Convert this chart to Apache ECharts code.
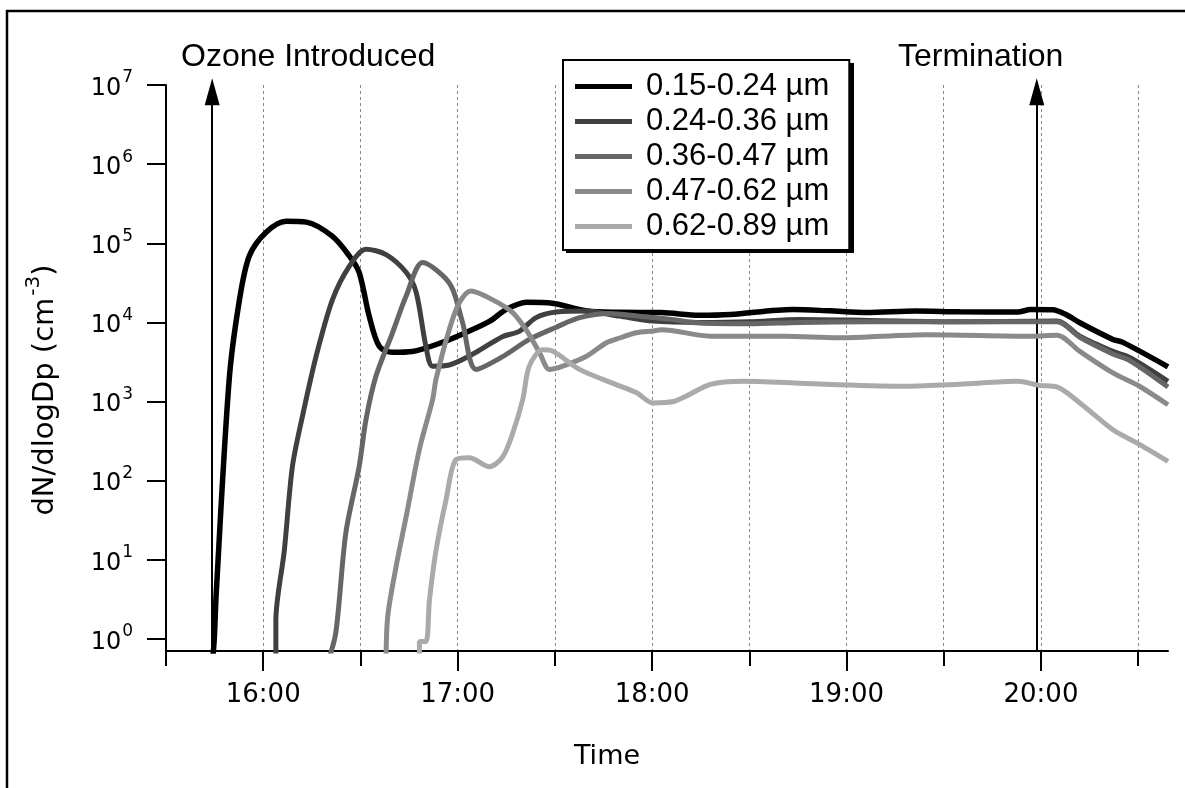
<!DOCTYPE html>
<html>
<head>
<meta charset="utf-8">
<script src="https://cdn.jsdelivr.net/npm/echarts@6/dist/echarts.min.js"></script>
<style>html,body{margin:0;padding:0;background:#fff}#c{width:1185px;height:788px}</style>
</head>
<body>
<div id="c"></div>
<script>
// ---- data (time in minutes after midnight, dN/dlogDp in cm^-3) ----
const seriesNames = ['0.15-0.24 µm', '0.24-0.36 µm', '0.36-0.47 µm', '0.47-0.62 µm', '0.62-0.89 µm'];
const seriesColors = ['#000000', '#404040', '#666666', '#8a8a8a', '#aaaaaa'];

const t1 = [944.3, 944.9, 945.5, 949.5, 952.6, 955.7, 960.9, 967.1, 973.3, 981.3, 986.6, 989.6, 992.7, 995.8, 999.8, 1006, 1015.3, 1022.7, 1029.8, 1035, 1041.2, 1049.2, 1060, 1069.9, 1082.9, 1094.6, 1104.2, 1123.4, 1134.8, 1146.2, 1161.3, 1174.9, 1192.8, 1196.9, 1203.6, 1207.7, 1212, 1222.2, 1225.3, 1239.2];
const v1 = [0.5, 1, 3.8, 1900, 18500, 69000, 138000, 190000, 185000, 123000, 69000, 43000, 12000, 5000, 4200, 4300, 5600, 7500, 10300, 14600, 18000, 17500, 13900, 13400, 13300, 12300, 12600, 14600, 14000, 13300, 13900, 13600, 13500, 14600, 14500, 12600, 9900, 6100, 5600, 2750];

const t2 = [963.9, 963.9, 966.5, 969, 972.1, 976.3, 981.4, 986.6, 991.7, 997.9, 1004.1, 1007.2, 1010.2, 1012.3, 1017.4, 1025.7, 1033.8, 1039, 1044.2, 1050.4, 1059.6, 1069.9, 1080.2, 1094.6, 1110, 1125.5, 1147.1, 1174, 1204.9, 1212, 1222.2, 1227.4, 1239.2];
const v2 = [0.5, 1.7, 13, 150, 650, 3700, 19500, 51500, 84000, 72000, 43000, 24000, 5000, 2800, 2900, 4200, 6600, 7700, 11500, 13500, 13900, 12000, 10400, 10000, 10200, 10900, 10600, 10200, 10400, 6700, 4300, 3600, 1800];

const t3 = [979.9, 982.4, 985.5, 989.6, 991.7, 994.8, 999.9, 1004.1, 1009.2, 1015.4, 1018.5, 1021.5, 1025.7, 1033.9, 1042.1, 1050.4, 1057.6, 1066.8, 1076.1, 1085.4, 1094.6, 1110.1, 1125.5, 1147.1, 1174, 1204.9, 1212, 1222.2, 1227.4, 1239.2];
const v3 = [0.5, 1.2, 22, 150, 590, 2100, 7400, 21500, 57000, 39000, 26000, 10000, 2550, 3700, 6100, 8700, 11500, 13000, 12000, 11000, 9800, 9600, 10000, 10200, 10200, 10200, 6500, 4000, 3300, 1530];

const t4 = [997.9, 998.4, 1001, 1004.1, 1008.2, 1012.3, 1013.3, 1017.4, 1020.5, 1024.1, 1030.7, 1036.9, 1041.1, 1045.2, 1048.3, 1051.4, 1059.6, 1065.8, 1070.2, 1075.1, 1080.4, 1082.9, 1098, 1120.9, 1137.3, 1165, 1196.9, 1204.9, 1212, 1222.2, 1230.5, 1239.2];
const v4 = [0.5, 1.9, 8.2, 35, 250, 1070, 1900, 8100, 17700, 25000, 19400, 13400, 8100, 4200, 2550, 2700, 3700, 5500, 6400, 7400, 7800, 8100, 6700, 6700, 6400, 7000, 6700, 6900, 4300, 2300, 1550, 910];

const t5 = [1008.2, 1008.2, 1010.2, 1011.3, 1013.3, 1016.4, 1019.5, 1023.6, 1029.8, 1033.9, 1037, 1040.1, 1042.1, 1046.2, 1049.2, 1057.6, 1067.9, 1075.1, 1080.3, 1086.6, 1090.5, 1098, 1108.2, 1133.4, 1158.7, 1174.9, 1192.8, 1199.6, 1204.9, 1212, 1222.2, 1229.6, 1239.2];
const v5 = [0.5, 0.93, 0.93, 3.1, 13, 57, 185, 195, 150, 200, 400, 1070, 2800, 4500, 4350, 2550, 1700, 1300, 960, 1000, 1170, 1650, 1800, 1650, 1560, 1650, 1800, 1600, 1530, 960, 440, 300, 175];

const hourTickLabels = ['16:00', '17:00', '18:00', '19:00', '20:00'];
const yTickExponents = [0, 1, 2, 3, 4, 5, 6, 7];
const eventNames = ['Ozone Introduced', 'Termination'];
const eventTimes = ['15:44.25', '19:58.7'];

// ---- helpers ----
function toMin(s) { const p = s.split(':'); return (+p[0]) * 60 + (+p[1]); }
function fmtTime(v) { const h = Math.floor(v / 60), m = Math.round(v % 60); return h + ':' + (m < 10 ? '0' : '') + m; }
function fmtPow(v) {
  const e = Math.log10(v), r = Math.round(e);
  if (Math.abs(e - r) > 1e-6 || yTickExponents.indexOf(r) < 0) return '';
  return '{b|10}{e|' + r + '}';
}

const xMin = toMin('15:30'), xMax = toMin('20:39.2');
const yMin = Math.pow(10, -0.152), yMax = 1e7;
const hourTicks = hourTickLabels.map(toMin);
const halfHourTicks = [];
for (let v = xMin; v < xMax; v += 30) halfHourTicks.push(v);
const yTicks = yTickExponents.map(e => Math.pow(10, e));
const eventMin = eventTimes.map(toMin);

const allT = [t1, t2, t3, t4, t5], allV = [v1, v2, v3, v4, v5];
const lineWidths = [5.5, 5, 5, 5, 5];

const series = seriesNames.map((name, i) => ({
  name: name, type: 'line', showSymbol: false, smooth: 0.3,
  data: allT[i].map((t, j) => [t, allV[i][j]]),
  lineStyle: { color: seriesColors[i], width: lineWidths[i] },
  itemStyle: { color: seriesColors[i] },
  z: 3 + i, silent: true
}));

series.push({
  name: 'events', type: 'line', data: [], clip: false, silent: true, z: 10,
  markLine: {
    silent: true, animation: false,
    symbol: ['none', 'triangle'], symbolSize: [15, 27],
    label: { show: false },
    lineStyle: { color: '#000', width: 2, type: 'solid' },
    emphasis: { disabled: true },
    data: eventMin.map(t => [{ coord: [t, yMin] }, { coord: [t, Math.pow(10, 6.915)] }])
  }
});

const chart = echarts.init(document.getElementById('c'), null, { renderer: 'canvas' });
chart.setOption({
  animation: false,
  backgroundColor: '#fff',
  color: seriesColors,
  textStyle: { fontFamily: 'DejaVu Sans' },
  grid: { left: 166, right: 17, top: 85, bottom: 137 },
  legend: {
    data: seriesNames, orient: 'vertical', left: 563, top: 60, z: 6,
    icon: 'rect', itemWidth: 57, itemHeight: 5, itemGap: 2,
    padding: [10, 20, 7, 12],
    borderColor: '#000', borderWidth: 2, backgroundColor: '#fff',
    selectedMode: false,
    textStyle: { fontFamily: 'Liberation Sans', fontSize: 31, color: '#000', lineHeight: 33, padding: [0, 0, 0, 9] }
  },
  xAxis: [
    {
      type: 'value', min: xMin, max: xMax, position: 'bottom',
      axisLine: { show: true, lineStyle: { color: '#000', width: 2 } },
      axisTick: { show: true, length: 15, lineStyle: { color: '#000', width: 2 }, customValues: halfHourTicks },
      axisLabel: { show: false },
      splitLine: { show: true, lineStyle: { color: '#888', width: 1, type: [3, 3] } }
    },
    {
      type: 'value', min: xMin, max: xMax, position: 'bottom',
      axisLine: { show: false },
      axisTick: { show: true, length: 20, lineStyle: { color: '#000', width: 2 }, customValues: hourTicks },
      axisLabel: { show: true, customValues: hourTicks, formatter: fmtTime, margin: 31,
        fontFamily: 'DejaVu Sans', fontSize: 26, color: '#000' },
      splitLine: { show: false },
      name: 'Time', nameLocation: 'middle', nameGap: 92,
      nameTextStyle: { fontFamily: 'DejaVu Sans', fontSize: 27, color: '#000', padding: [0, 120, 0, 0] }
    }
  ],
  yAxis: {
    type: 'log', logBase: 10, min: yMin, max: yMax, splitNumber: 8,
    axisLine: { show: true, lineStyle: { color: '#000', width: 2 } },
    axisTick: { show: true, length: 19, lineStyle: { color: '#000', width: 2 }, customValues: yTicks },
    axisLabel: {
      show: true, margin: 33, hideOverlap: false,
      fontFamily: 'DejaVu Sans', fontSize: 24, color: '#000',
      formatter: fmtPow,
      rich: {
        b: { fontFamily: 'DejaVu Sans', fontSize: 24, color: '#000', verticalAlign: 'bottom' },
        e: { fontFamily: 'DejaVu Sans', fontSize: 17, color: '#000', verticalAlign: 'top', padding: [0, 0, 14, 1] }
      }
    },
    splitLine: { show: false },
    name: '{a|dN/dlogDp (cm}{s|-3}{a|)}', nameLocation: 'middle', nameRotate: 90, nameGap: 106,
    nameTextStyle: {
      fontFamily: 'DejaVu Sans', fontSize: 29, color: '#000',
      padding: [0, 44, 0, 0],
      rich: {
        a: { fontFamily: 'DejaVu Sans', fontSize: 29, color: '#000', verticalAlign: 'bottom' },
        s: { fontFamily: 'DejaVu Sans', fontSize: 20, color: '#000', verticalAlign: 'top', padding: [0, 0, 16, 2] }
      }
    }
  },
  graphic: [
    { type: 'polyline', silent: true, shape: { points: [[7, 800], [7, 11], [1200, 11]] },
      style: { stroke: '#000', lineWidth: 2.5, fill: null } },
    { type: 'rect', silent: true, z: 5, shape: { x: 566, y: 63, width: 288, height: 190 },
      style: { fill: '#000' } },
    { type: 'text', silent: true, left: 181, top: 41,
      style: { text: eventNames[0], font: '32px "Liberation Sans"', fill: '#000' } },
    { type: 'text', silent: true, left: 898, top: 41,
      style: { text: eventNames[1], font: '32px "Liberation Sans"', fill: '#000' } }
  ],
  series: series
});
</script>
</body>
</html>
